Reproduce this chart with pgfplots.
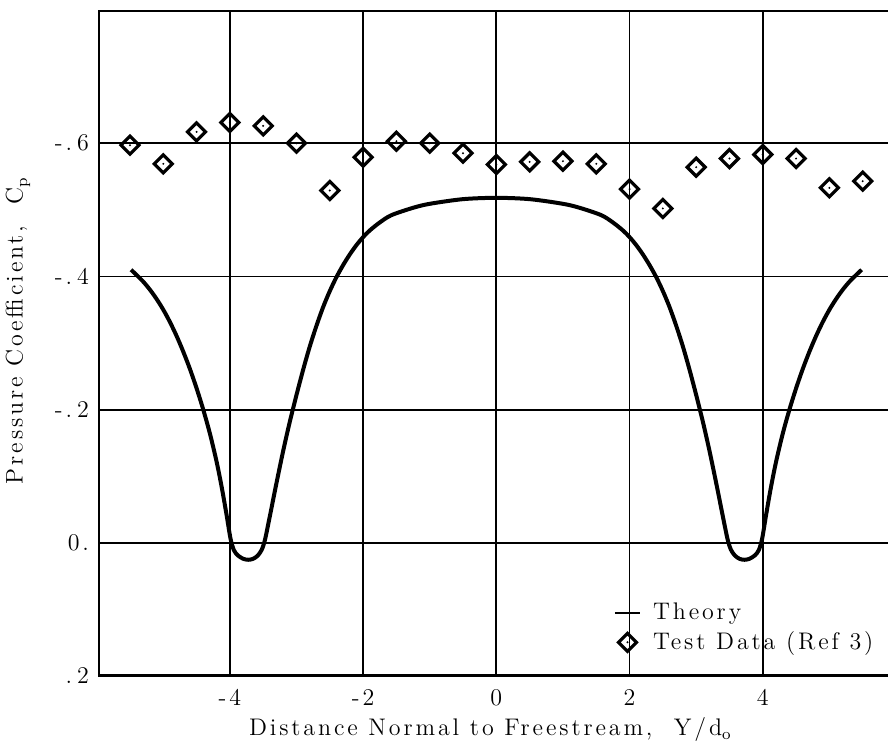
\documentclass[border=0pt]{standalone}
\usepackage{fontspec}
\setmainfont{Latin Modern Roman}[LetterSpace=12]
\usepackage{pgfplots}
\pgfplotsset{compat=1.18}
\pgfdeclareplotmark{dsq}{%
  \pgfpathmoveto{\pgfqpoint{0pt}{\pgfplotmarksize}}%
  \pgfpathlineto{\pgfqpoint{\pgfplotmarksize}{0pt}}%
  \pgfpathlineto{\pgfqpoint{0pt}{-\pgfplotmarksize}}%
  \pgfpathlineto{\pgfqpoint{-\pgfplotmarksize}{0pt}}%
  \pgfpathclose
  \pgfusepathqstroke
  \pgfpathcircle{\pgfpointorigin}{0.55pt}%
  \pgfusepathqfill
}
\begin{document}
\begin{tikzpicture}[font=\fontsize{12}{14}\selectfont]
\begin{axis}[
  name=ax,
  scale only axis,
  width=395pt, height=333pt,
  xmin=-5.98, xmax=5.88,
  ymin=-0.8, ymax=0.2,
  y dir=reverse,
  axis line style={draw=none},
  major tick length=0pt,
  tick label style={font=\fontsize{12}{14}\selectfont},
  xtick={-4,-2,0,2,4},
  xticklabels={-4,-2,0,2,4},
  ytick={-0.6,-0.4,-0.2,0,0.2},
  yticklabels={-.\hspace{2.5pt}6,-.\hspace{2.5pt}4,-.\hspace{2.5pt}2,0.\hspace{4pt},.\hspace{2.5pt}2\hspace{2pt}},
  xticklabel style={yshift=-3pt},
  yticklabel style={anchor=east, xshift=-1pt},
  grid=major,
  major grid style={black, line width=0.9pt},
  xlabel={Distance Normal to Freestream,\ \ Y/d\raisebox{-0.45ex}{\footnotesize o}},
  ylabel={Pressure Coefficient,\ \ C\raisebox{-0.45ex}{\footnotesize p}},
  every axis x label/.style={at={(axis description cs:0.496,0)}, anchor=base, yshift=-29.5pt, font=\fontsize{12}{14}\selectfont},
  every axis y label/.style={at={(axis description cs:0,0.518)}, xshift=-40pt, rotate=90, anchor=center, font=\fontsize{12}{14}\selectfont},
  legend style={draw=none, fill=none, at={(axis description cs:0.645,0.122)}, anchor=north west,
    row sep=0.5pt, column sep=4pt, font=\fontsize{12}{14}\selectfont},
  legend cell align=left,
]
\addplot[black, line width=2pt, smooth, tension=0.5,
  legend image code/.code={\draw[black, line width=1pt] (0.08cm,0cm) -- (0.52cm,0cm);}]
  coordinates {
  (-5.484,-0.410) (-5.4,-0.402) (-5.3,-0.392) (-5.2,-0.380) (-5.1,-0.366)
  (-5.0,-0.350) (-4.9,-0.3315) (-4.8,-0.3105) (-4.7,-0.287) (-4.6,-0.261)
  (-4.5,-0.232) (-4.4,-0.200) (-4.3,-0.164) (-4.2,-0.122) (-4.12,-0.082)
  (-4.05,-0.042) (-3.99,-0.006) (-3.94,0.011) (-3.88,0.019) (-3.80,0.024)
  (-3.725,0.0255)
  (-3.65,0.024) (-3.58,0.019) (-3.52,0.010) (-3.47,-0.006) (-3.40,-0.040)
  (-3.30,-0.090) (-3.20,-0.138) (-3.10,-0.182) (-3.00,-0.222) (-2.9,-0.260)
  (-2.8,-0.295) (-2.7,-0.326) (-2.6,-0.354) (-2.5,-0.378) (-2.4,-0.399)
  (-2.3,-0.417) (-2.2,-0.433) (-2.1,-0.447) (-2.0,-0.459) (-1.9,-0.469)
  (-1.75,-0.481) (-1.574,-0.492) (-1.25,-0.503) (-1.0,-0.509) (-0.5,-0.516)
  (0,-0.518)
  (0.5,-0.516) (1.0,-0.509) (1.25,-0.503) (1.574,-0.492) (1.75,-0.481)
  (1.9,-0.469) (2.0,-0.459) (2.1,-0.447) (2.2,-0.433) (2.3,-0.417)
  (2.4,-0.399) (2.5,-0.378) (2.6,-0.354) (2.7,-0.326) (2.8,-0.295)
  (2.9,-0.260) (3.00,-0.222) (3.10,-0.182) (3.20,-0.138) (3.30,-0.090)
  (3.40,-0.040) (3.47,-0.006) (3.52,0.010) (3.58,0.019) (3.65,0.024)
  (3.725,0.0255)
  (3.80,0.024) (3.88,0.019) (3.94,0.011) (3.99,-0.006) (4.05,-0.042)
  (4.12,-0.082) (4.2,-0.122) (4.3,-0.164) (4.4,-0.200) (4.5,-0.232)
  (4.6,-0.261) (4.7,-0.287) (4.8,-0.3105) (4.9,-0.3315) (5.0,-0.350)
  (5.1,-0.366) (5.2,-0.380) (5.3,-0.392) (5.4,-0.402) (5.484,-0.410)
  };
\addlegendentry{Theory}
\addplot[only marks, mark=dsq, mark size=4.5pt, black, line width=1.6pt]
  coordinates {
  (-5.5,-0.597) (-5.0,-0.569) (-4.5,-0.617) (-4.0,-0.631) (-3.5,-0.626)
  (-3.0,-0.600) (-2.5,-0.529) (-2.0,-0.579) (-1.5,-0.603) (-1.0,-0.600)
  (-0.5,-0.585) (0.0,-0.568) (0.5,-0.572) (1.0,-0.573) (1.5,-0.569)
  (2.0,-0.531) (2.5,-0.502) (3.0,-0.564) (3.5,-0.577) (4.0,-0.583)
  (4.5,-0.577) (5.0,-0.533) (5.5,-0.543)
  };
\addlegendentry{Test Data (Ref 3)}
\draw[line width=2pt] (axis description cs:0,0) -- (axis description cs:0,1);
\draw[line width=2pt] (axis description cs:0,0) -- (axis description cs:1,0);
\draw[line width=1.5pt] (axis description cs:0,1) -- (axis description cs:1,1);
\end{axis}
\pgfresetboundingbox
\path[use as bounding box] ([xshift=-49pt,yshift=-35.5pt]ax.south west) rectangle ([yshift=5pt]ax.north east);
\end{tikzpicture}
\end{document}
